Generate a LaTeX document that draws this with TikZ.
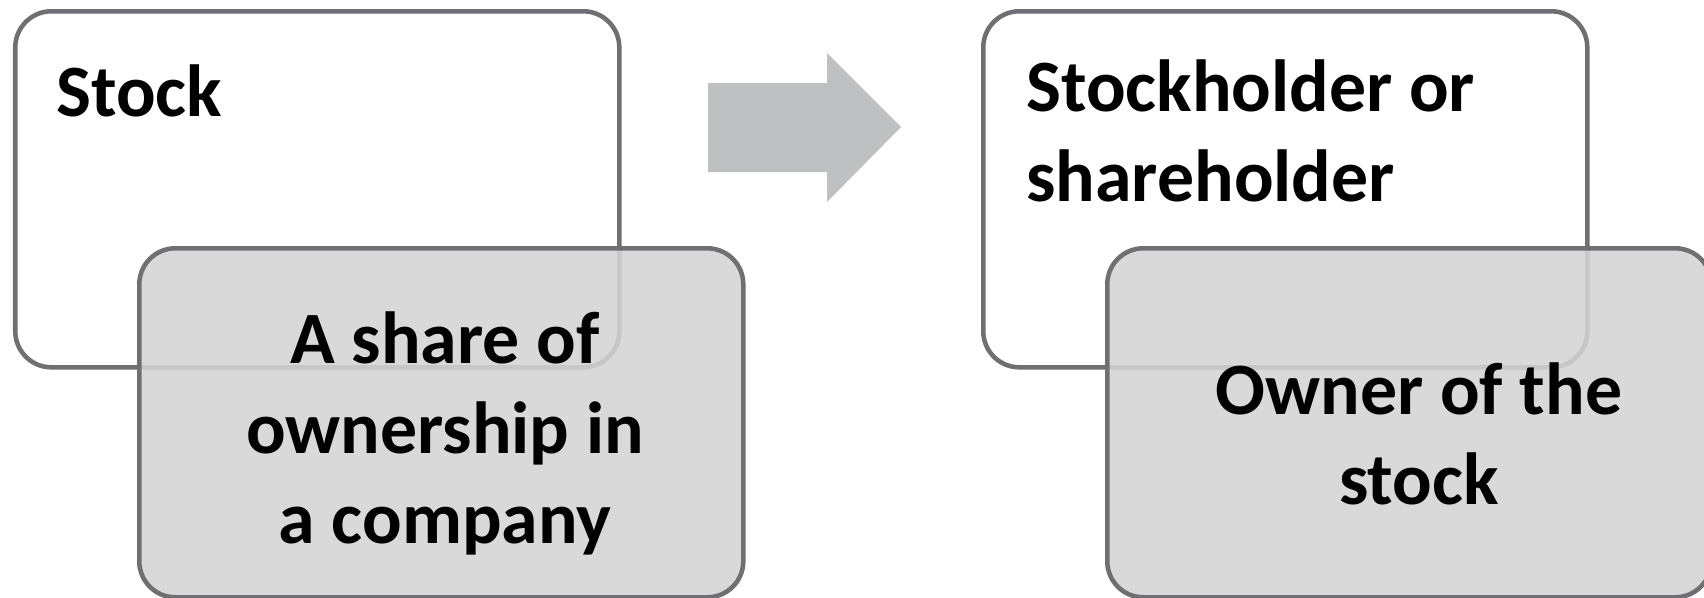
\documentclass[tikz,border=0pt]{standalone}
\usepackage{fontspec}
\setmainfont{Carlito}

\definecolor{cardline}{RGB}{112,112,116}
\definecolor{subfill}{RGB}{212,212,212}
\definecolor{arrowfill}{RGB}{191,192,194}

\tikzset{
  card/.style={draw=cardline, line width=2.6pt, rounded corners=0.72cm,
    anchor=north west, inner sep=0pt},
  topcard/.style={card, fill=white, minimum width=12.08cm, minimum height=7.12cm},
  subcard/.style={card, fill=subfill, fill opacity=0.88,
    minimum width=12.08cm, minimum height=6.98cm},
  cardtext/.style={font=\bfseries\fontsize{42}{51}\selectfont, inner sep=0pt}
}

\begin{document}
\begin{tikzpicture}

      \useasboundingbox (0,0) rectangle (34.08,-11.94);

      \node [topcard] (stock) at (0.26,-0.18) {};
      \node [subcard] (share) at (2.74,-4.92) {};

      \node [topcard] (holder) at (19.62,-0.18) {};
      \node [subcard] (owner) at (22.10,-4.92) {};

      \fill [arrowfill] (14.16,-1.66) -- (16.54,-1.66) -- (16.54,-1.06)
        -- (18.02,-2.54) -- (16.54,-4.04) -- (16.54,-3.44) -- (14.16,-3.44) -- cycle;


      \node [cardtext, anchor=base west] (stocktext) at (1.12,-2.32) {Stock};

      \node [cardtext, anchor=base, align=center] (sharetext) at (8.9,-10.86)
        {A share of\\ownership in\\a company};

      \node [cardtext, anchor=base west, align=left] (holdertext) at (20.52,-4.02)
        {Stockholder or\\shareholder};

      \node [cardtext, anchor=base, align=center] (ownertext) at (28.38,-10.09)
        {Owner of the\\stock};

    \end{tikzpicture}
\end{document}
